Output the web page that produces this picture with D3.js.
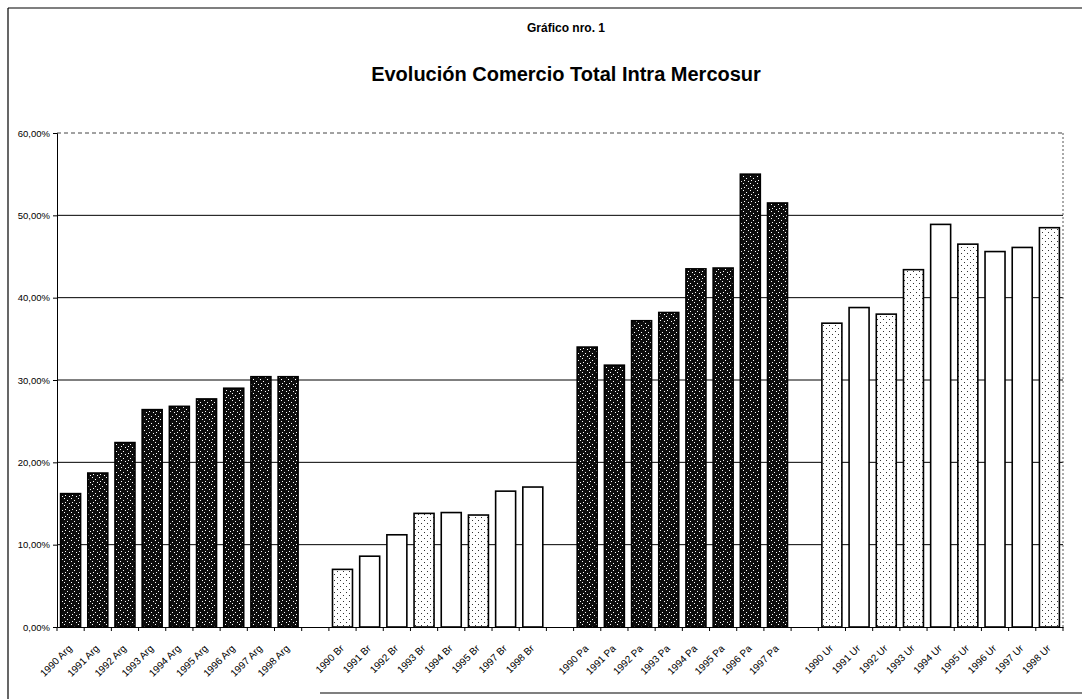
<!DOCTYPE html>
<html>
<head>
<meta charset="utf-8">
<script src="https://cdn.jsdelivr.net/npm/d3@7"></script>
<style>
  html, body { margin: 0; padding: 0; background: #fff; }
  svg { display: block; font-family: "Liberation Sans", Arial, sans-serif; }
</style>
</head>
<body>
<svg id="chart" width="1082" height="699"></svg>
<script>
/* Evolución Comercio Total Intra Mercosur (%) */

const argLabels = ["1990 Arg", "1991 Arg", "1992 Arg", "1993 Arg", "1994 Arg",
  "1995 Arg", "1996 Arg", "1997 Arg", "1998 Arg"];
const argValues = [16.2, 18.7, 22.4, 26.4, 26.8, 27.7, 29.0, 30.4, 30.4];

const brLabels = ["1990 Br", "1991 Br", "1992 Br", "1993 Br", "1994 Br",
  "1995 Br", "1997 Br", "1998 Br"];
const brValues = [7.0, 8.6, 11.2, 13.8, 13.9, 13.6, 16.5, 17.0];

const paLabels = ["1990 Pa", "1991 Pa", "1992 Pa", "1993 Pa", "1994 Pa",
  "1995 Pa", "1996 Pa", "1997 Pa"];
const paValues = [34.0, 31.8, 37.2, 38.2, 43.5, 43.6, 55.0, 51.5];

const urLabels = ["1990 Ur", "1991 Ur", "1992 Ur", "1993 Ur", "1994 Ur",
  "1995 Ur", "1996 Ur", "1997 Ur", "1998 Ur"];
const urValues = [36.9, 38.8, 38.0, 43.4, 48.9, 46.5, 45.6, 46.1, 48.5];

const yTicks = [0, 10, 20, 30, 40, 50, 60];


function main() {
  const width = 1082;
  const margin = ({top: 133, right: 19, bottom: 72, left: 57});
  const baseline = 627;

  const svg = d3.select("#chart");

  // fill patterns imitating the photocopied hatching
  const defs = svg.append("defs");
  const dark = defs.append("pattern").attr("id", "dark")
    .attr("patternUnits", "userSpaceOnUse").attr("width", 7).attr("height", 7);
  dark.append("rect").attr("width", 7).attr("height", 7).attr("fill", "#0d0d0d");
  [[1, 1], [4, 3], [2, 5], [6, 6]].forEach(([px, py]) => {
    dark.append("rect").attr("x", px).attr("y", py)
      .attr("width", 1).attr("height", 1).attr("fill", "#fff");
  });
  const dots = defs.append("pattern").attr("id", "dots")
    .attr("patternUnits", "userSpaceOnUse").attr("width", 6).attr("height", 6);
  dots.append("rect").attr("width", 6).attr("height", 6).attr("fill", "#fff");
  [[1, 1], [4, 4]].forEach(([px, py]) => {
    dots.append("rect").attr("x", px).attr("y", py)
      .attr("width", 1).attr("height", 1).attr("fill", "#333");
  });

  // one row per bar, empty slots between the countries
  const rows = [];
  const addGroup = (labels, values, fill) => {
    labels.forEach((l, i) => rows.push({key: l, label: l, value: values[i], fill: fill}));
  };
  const stippled = ["1990 Br", "1993 Br", "1995 Br",
    "1990 Ur", "1992 Ur", "1993 Ur", "1995 Ur", "1998 Ur"];
  addGroup(argLabels, argValues, "dark");
  rows.push({key: "gap1", label: "", value: null});
  addGroup(brLabels, brValues, "white");
  rows.push({key: "gap2", label: "", value: null});
  addGroup(paLabels, paValues, "dark");
  rows.push({key: "gap3", label: "", value: null});
  addGroup(urLabels, urValues, "white");

  const x = d3.scaleBand()
    .domain(rows.map((d) => d.key))
    .range([margin.left, width - margin.right])
    .paddingInner(0.265)
    .paddingOuter(0.1325);

  const y = d3.scaleLinear()
    .domain([0, 60])
    .range([baseline, margin.top]);

  // page frame of the scan
  svg.append("line").attr("x1", 8).attr("x2", 1082).attr("y1", 8).attr("y2", 8)
    .attr("stroke", "#000").attr("stroke-width", 1.2);
  svg.append("line").attr("x1", 8).attr("x2", 8).attr("y1", 8).attr("y2", 699)
    .attr("stroke", "#000").attr("stroke-width", 1.2);
  svg.append("line").attr("x1", 320).attr("x2", 1082).attr("y1", 693).attr("y2", 693)
    .attr("stroke", "#000").attr("stroke-width", 1.2);

  // titles
  svg.append("text").attr("x", 566).attr("y", 32)
    .attr("text-anchor", "middle").attr("font-weight", "bold")
    .attr("font-size", 12).text("Gráfico nro. 1");
  svg.append("text").attr("x", 566).attr("y", 81)
    .attr("text-anchor", "middle").attr("font-weight", "bold")
    .attr("font-size", 20).text("Evolución Comercio Total Intra Mercosur");

  // gridlines
  const x0 = margin.left;
  const x1 = width - margin.right;
  svg.append("g").selectAll("line")
    .data(yTicks.filter((t) => t > 0))
    .join("line")
    .attr("x1", x0).attr("x2", x1)
    .attr("y1", (d) => y(d)).attr("y2", (d) => y(d))
    .attr("stroke", (d) => d == 60 ? "#444" : "#000")
    .attr("stroke-width", 1)
    .attr("stroke-dasharray", (d) => d == 60 ? "4,3" : null);
  svg.append("line").attr("x1", x1).attr("x2", x1)
    .attr("y1", y(60)).attr("y2", y(0))
    .attr("stroke", "#555").attr("stroke-dasharray", "2,2");

  // bars
  svg.append("g").selectAll("rect")
    .data(rows.filter((d) => d.value !== null))
    .join("rect")
    .attr("x", (d) => x(d.key))
    .attr("y", (d) => y(d.value))
    .attr("width", x.bandwidth())
    .attr("height", (d) => y(0) - y(d.value))
    .attr("fill", (d) => d.fill == "dark" ? "url(#dark)" :
      (stippled.includes(d.key) ? "url(#dots)" : "#fff"))
    .attr("stroke", "#000")
    .attr("stroke-width", 1.6);

  // y axis
  const yAxis = (g) => g
    .attr("transform", `translate(${margin.left},0)`)
    .call(d3.axisLeft(y).tickValues(yTicks).tickSize(4)
      .tickFormat((d) => d.toFixed(2).replace(".", ",") + "%"))
    .call((g) => g.selectAll("text").attr("font-size", 9.5)
      .attr("fill", "#000").attr("font-family", "Liberation Sans, Arial, sans-serif"))
    .call((g) => g.selectAll("line, path").attr("stroke", "#000"));
  svg.append("g").call(yAxis);

  // x axis: line, ticks between categories, rotated labels
  const half = x.step() * x.paddingInner() / 2;
  const xAxis = (g) => g
    .attr("transform", `translate(0,${y(0)})`)
    .call(d3.axisBottom(x).tickSize(0).tickSizeOuter(0)
      .tickFormat((k) => rows.find((r) => r.key == k).label))
    .call((g) => g.select(".domain").attr("stroke", "#000").attr("stroke-width", 1.2))
    .call((g) => g.selectAll(".tick text")
      .attr("font-size", 10)
      .attr("fill", "#000")
      .attr("font-family", "Liberation Sans, Arial, sans-serif")
      .attr("text-anchor", "end")
      .attr("dy", null)
      .attr("y", 0)
      .attr("transform", "translate(2,22) rotate(-45)"));
  svg.append("g").call(xAxis);

  svg.append("g").selectAll("line")
    .data(rows)
    .join("line")
    .attr("x1", (d) => x(d.key) - half).attr("x2", (d) => x(d.key) - half)
    .attr("y1", y(0)).attr("y2", y(0) + 4)
    .attr("stroke", "#000");
  svg.append("line")
    .attr("x1", x1).attr("x2", x1).attr("y1", y(0)).attr("y2", y(0) + 4)
    .attr("stroke", "#000");

  return svg.node();
}

main();
</script>
</body>
</html>
